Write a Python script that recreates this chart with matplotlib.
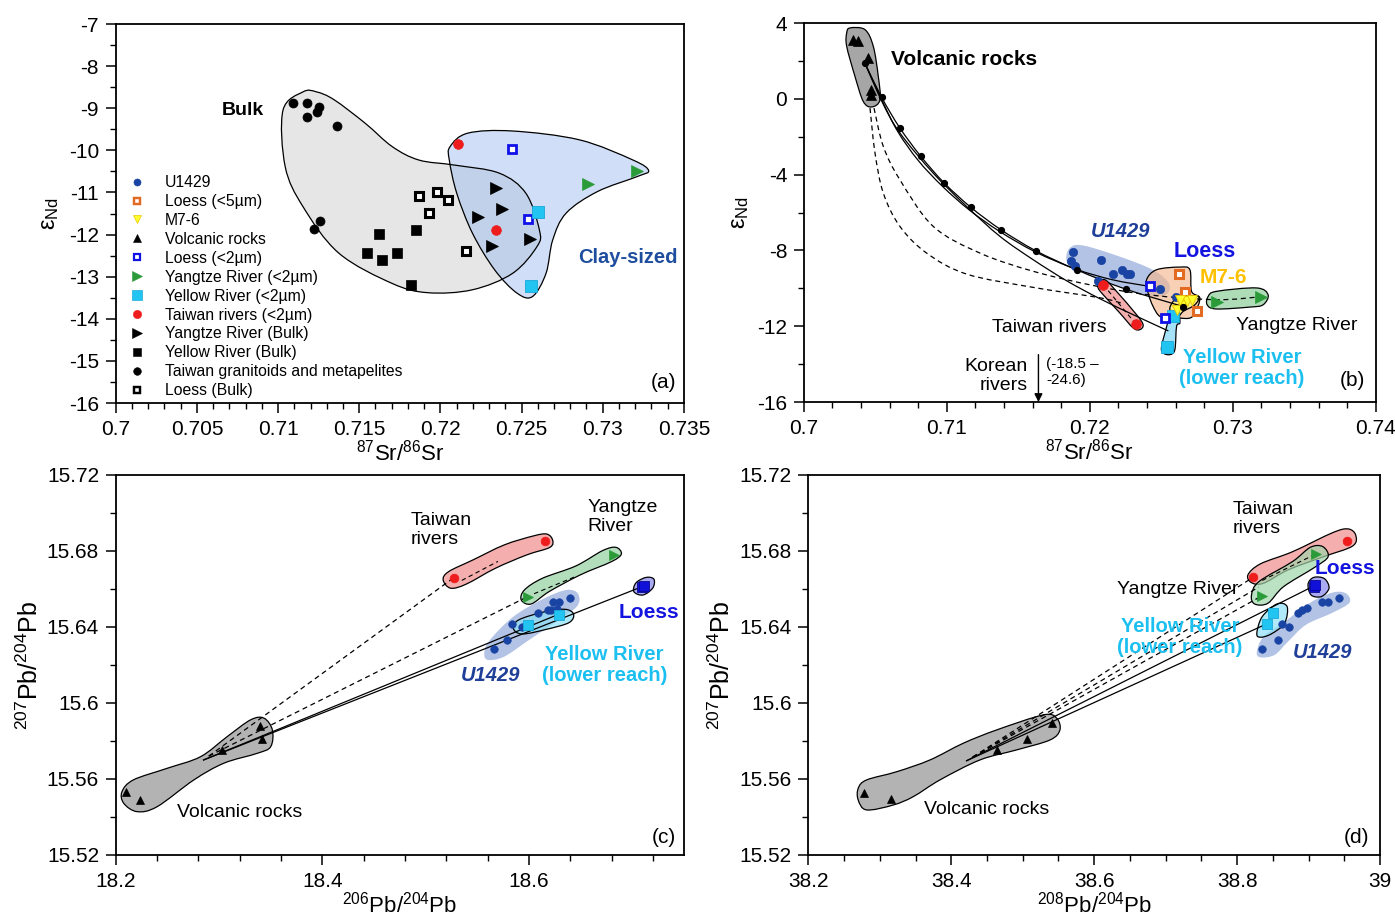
import numpy as np
import matplotlib
matplotlib.use("Agg")
import matplotlib.pyplot as plt
from matplotlib.path import Path
from matplotlib.patches import PathPatch
from matplotlib.lines import Line2D
from matplotlib.colors import to_rgba
from matplotlib.ticker import MultipleLocator, FuncFormatter

plt.rcParams["font.family"] = ["Liberation Sans", "DejaVu Sans"]
plt.rcParams["mathtext.fontset"] = "custom"
plt.rcParams["mathtext.rm"] = "Liberation Sans"
plt.rcParams["mathtext.it"] = "Liberation Sans:italic"
plt.rcParams["axes.unicode_minus"] = False

# ---------------- panel (a): eNd vs 87Sr/86Sr, bulk vs clay ----------------
A_GRANITOID_X = [0.7109, 0.7118, 0.7125, 0.7124, 0.7118, 0.7136, 0.7126, 0.7122]
A_GRANITOID_Y = [-8.87, -8.87, -8.98, -9.08, -9.2, -9.41, -11.67, -11.86]
A_LOESS_BULK_X = [0.7187, 0.7198, 0.7205, 0.7193, 0.7216]
A_LOESS_BULK_Y = [-11.08, -11.0, -11.19, -11.49, -12.4]
A_YELLOW_BULK_X = [0.7162, 0.7185, 0.7155, 0.7164, 0.7173, 0.7182]
A_YELLOW_BULK_Y = [-11.99, -11.89, -12.43, -12.6, -12.44, -13.19]
A_YANGTZE_BULK_X = [0.7234, 0.7238, 0.7223, 0.7232, 0.7255]
A_YANGTZE_BULK_Y = [-10.9, -11.4, -11.59, -12.28, -12.1]
A_TAIWAN_X = [0.7211, 0.7234]
A_TAIWAN_Y = [-9.85, -11.89]
A_LOESS2_X = [0.7244, 0.7254]
A_LOESS2_Y = [-9.97, -11.62]
A_YELLOW_X = [0.7260, 0.7256]
A_YELLOW_Y = [-11.47, -13.22]
A_YANGTZE_X = [0.7291, 0.7321]
A_YANGTZE_Y = [-10.79, -10.49]

A_BULK_ENV_X = [0.71154, 0.7103, 0.71044, 0.71154, 0.71374, 0.71703, 0.71923, 0.72198, 0.72445,
                0.72596, 0.7261, 0.72527, 0.72362, 0.72088, 0.71868, 0.71703, 0.71538, 0.71346, 0.71236]
A_BULK_ENV_Y = [-8.61, -9.05, -10.39, -11.34, -12.44, -13.16, -13.38, -13.31, -12.92,
                -12.28, -11.89, -11.02, -10.54, -10.35, -10.23, -9.91, -9.36, -8.8, -8.61]
A_CLAY_ENV_X = [0.7206, 0.7217, 0.72445, 0.72857, 0.73187, 0.73283, 0.73214, 0.72967, 0.72775,
                0.72692, 0.72651, 0.72568, 0.72472, 0.72335, 0.72198, 0.72101, 0.72055]
A_CLAY_ENV_Y = [-9.91, -9.59, -9.54, -9.75, -10.23, -10.48, -10.62, -10.98, -11.49,
                -12.13, -12.92, -13.47, -13.39, -12.84, -11.97, -11.02, -10.23]

LEGEND_LABELS = ["U1429", "Loess (<5µm)", "M7-6", "Volcanic rocks", "Loess (<2µm)",
                 "Yangtze River (<2µm)", "Yellow River (<2µm)", "Taiwan rivers (<2µm)",
                 "Yangtze River (Bulk)", "Yellow River (Bulk)",
                 "Taiwan granitoids and metapelites", "Loess (Bulk)"]

# ---------------- panel (b): mixing curves ----------------
B_VOLC_X = [0.70346, 0.70381, 0.70451, 0.7047, 0.7047]
B_VOLC_Y = [3.08, 3.03, 2.15, 0.48, 0.22]
B_U1429_X = [0.71880, 0.71866, 0.71896, 0.72076, 0.72164, 0.72223, 0.72257, 0.72281, 0.72059, 0.72602, 0.7249]
B_U1429_Y = [-8.10, -8.58, -8.84, -8.53, -9.25, -9.02, -9.23, -9.23, -9.64, -10.46, -10.04]
B_LOESS2_X = [0.7242, 0.72525]
B_LOESS2_Y = [-9.90, -11.57]
B_LOESS5_X = [0.72623, 0.72665, 0.72747]
B_LOESS5_Y = [-9.25, -10.22, -11.22]
B_M76_X = [0.72607, 0.72642, 0.72677, 0.72712, 0.7263]
B_M76_Y = [-11.13, -10.87, -10.69, -10.61, -10.61]
B_YELLOW_X = [0.72583, 0.72541]
B_YELLOW_Y = [-11.48, -13.1]
B_TAIWAN_X = [0.72094, 0.72322]
B_TAIWAN_Y = [-9.81, -11.88]
B_YANGTZE_X = [0.7289, 0.7320]
B_YANGTZE_Y = [-10.7, -10.45]

B_CURVE_A_X = [0.70427, 0.70545, 0.70672, 0.70819, 0.70982, 0.71169, 0.71379, 0.71623, 0.71908, 0.7225, 0.72653]
B_CURVE_A_Y = [1.89, 0.07, -1.54, -3.04, -4.44, -5.73, -6.91, -8.02, -9.02, -10.04, -10.96]
B_CURVE_B_X = [0.70427, 0.70545, 0.70655, 0.708, 0.7097, 0.7116, 0.7137, 0.7162, 0.7190, 0.7216, 0.7242]
B_CURVE_B_Y = [1.89, -0.05, -1.7, -3.25, -4.62, -5.88, -7.0, -8.08, -8.98, -9.55, -9.9]
B_CURVE_C_X = [0.70427, 0.7055, 0.70672, 0.70905, 0.71139, 0.71372, 0.71604, 0.71838, 0.72071, 0.7232, 0.7255]
B_CURVE_C_Y = [1.89, -0.2, -1.80, -3.92, -5.68, -7.26, -8.49, -9.6, -10.55, -11.45, -12.25]
B_DASH_1_X = [0.70491, 0.70556, 0.70672, 0.70905, 0.71232, 0.71604, 0.72024, 0.7242, 0.72886, 0.7319]
B_DASH_1_Y = [-0.49, -2.51, -4.27, -6.73, -8.14, -9.1, -9.85, -10.35, -10.6, -10.45]
B_DASH_2_X = [0.70463, 0.70498, 0.70556, 0.70672, 0.70859, 0.71139, 0.71604, 0.72071, 0.72234]
B_DASH_2_Y = [-0.49, -2.86, -4.97, -6.73, -8.14, -9.25, -9.95, -10.5, -10.81]
B_KOREA_X = 0.71641
B_KOREA_Y = [-13.5, -16.0]

B_VOLC_ENV_X = [0.70323, 0.70428, 0.70486, 0.70521, 0.70533, 0.70475, 0.70416, 0.70358, 0.70300, 0.70300]
B_VOLC_ENV_Y = [3.74, 3.65, 2.77, 1.18, -0.05, -0.43, -0.14, 1.18, 2.77, 3.47]
B_U1429_ENV_X = [0.71860, 0.71984, 0.72389, 0.72545, 0.72545, 0.72451, 0.72264, 0.71953, 0.71843]
B_U1429_ENV_Y = [-7.87, -7.79, -8.84, -9.64, -10.25, -10.43, -10.07, -9.19, -8.66]
B_LOESS_ENV_X = [0.72397, 0.72467, 0.72630, 0.72700, 0.72712, 0.72770, 0.72735, 0.72700, 0.72630,
                 0.72560, 0.72490, 0.72443, 0.72408]
B_LOESS_ENV_Y = [-9.55, -9.02, -8.88, -9.02, -10.16, -10.51, -11.30, -11.57, -11.57,
                 -11.48, -11.48, -10.96, -10.25]
B_M76_ENV_X = [0.7256, 0.72583, 0.7263, 0.72758, 0.72735, 0.72653, 0.72607]
B_M76_ENV_Y = [-11.13, -10.69, -10.43, -10.43, -10.87, -11.22, -11.57]
B_YELLOW_ENV_X = [0.7256, 0.72618, 0.7263, 0.72607, 0.72595, 0.7256, 0.72513, 0.72502, 0.72541]
B_YELLOW_ENV_Y = [-11.30, -11.30, -11.83, -12.01, -13.24, -13.5, -13.41, -13.07, -11.92]
B_TAIWAN_ENV_X = [0.72059, 0.72106, 0.72187, 0.72327, 0.72373, 0.7235, 0.72303, 0.7221, 0.72094, 0.72059]
B_TAIWAN_ENV_Y = [-9.72, -9.55, -10.16, -11.39, -11.92, -12.18, -12.09, -11.30, -10.34, -9.99]
B_YANGTZE_ENV_X = [0.72828, 0.72886, 0.73166, 0.73247, 0.73212, 0.73119, 0.72886, 0.72821]
B_YANGTZE_ENV_Y = [-10.43, -10.16, -9.98, -10.34, -10.87, -10.99, -11.09, -10.87]

# ---------------- panel (c): 207Pb/204Pb vs 206Pb/204Pb ----------------
C_VOLC_X = [18.2095, 18.2234, 18.3025, 18.3397, 18.3414]
C_VOLC_Y = [15.553, 15.549, 15.575, 15.588, 15.581]
C_TAIWAN_X = [18.5274, 18.6151]
C_TAIWAN_Y = [15.666, 15.685]
C_YANGTZE_X = [18.5988, 18.6822]
C_YANGTZE_Y = [15.656, 15.678]
C_LOESS_X = [18.7095, 18.7114]
C_LOESS_Y = [15.6608, 15.6618]
C_YELLOW_X = [18.5988, 18.6295]
C_YELLOW_Y = [15.641, 15.6463]
C_U1429_X = [18.5664, 18.5787, 18.5836, 18.593, 18.6085, 18.6182, 18.6231, 18.6295, 18.6273, 18.6214, 18.6402]
C_U1429_Y = [15.6283, 15.6332, 15.6414, 15.6402, 15.6475, 15.6489, 15.6533, 15.6533, 15.6493, 15.6489, 15.6554]

C_SOLID_START = (18.285, 15.570)
C_SOLID_END_X = [18.7114, 18.628]
C_SOLID_END_Y = [15.6616, 15.6465]
C_DASH_START = (18.29, 15.572)
C_DASH_END_X = [18.5274, 18.5988]
C_DASH_END_Y = [15.666, 15.656]
C_INNER_DASH_X = [[18.535, 18.57], [18.605, 18.645]]
C_INNER_DASH_Y = [[15.6645, 15.6745], [15.6575, 15.6665]]

C_VOLC_ENV_X = [18.206, 18.217, 18.2497, 18.282, 18.3079, 18.3305, 18.3435, 18.3516, 18.35,
                18.337, 18.3047, 18.2756, 18.24, 18.2206, 18.2077]
C_VOLC_ENV_Y = [15.5533, 15.5595, 15.5656, 15.5717, 15.5823, 15.5911, 15.592, 15.5858, 15.577,
                15.5735, 15.5683, 15.5595, 15.5454, 15.5428, 15.5472]
C_TAIWAN_ENV_X = [18.517, 18.5222, 18.5459, 18.5762, 18.6043, 18.6173, 18.6229, 18.6203, 18.5978,
                  18.5676, 18.5395, 18.5243]
C_TAIWAN_ENV_Y = [15.6647, 15.6691, 15.6753, 15.6832, 15.6879, 15.6889, 15.6858, 15.6819, 15.6779,
                  15.6709, 15.6626, 15.6604]
C_YANGTZE_ENV_X = [18.5926, 18.5957, 18.6130, 18.6454, 18.6714, 18.6843, 18.6895, 18.68, 18.6497,
                   18.6195, 18.6022]
C_YANGTZE_ENV_Y = [15.6542, 15.6595, 15.6656, 15.6721, 15.6802, 15.6819, 15.6784, 15.6744, 15.6674,
                   15.6586, 15.6521]
C_LOESS_ENV_X = [18.7016, 18.7038, 18.7137, 18.7211, 18.7198, 18.7103]
C_LOESS_ENV_Y = [15.6586, 15.6633, 15.6661, 15.6651, 15.6604, 15.6568]
C_YELLOW_ENV_X = [18.5849, 18.5901, 18.613, 18.6346, 18.6432, 18.6389, 18.6173, 18.5935]
C_YELLOW_ENV_Y = [15.6393, 15.6437, 15.6477, 15.6493, 15.6468, 15.6423, 15.6388, 15.6363]
C_U1429_ENV_X = [18.5568, 18.5611, 18.5849, 18.6151, 18.6368, 18.6476, 18.6463, 18.6238, 18.5978,
                 18.5762, 18.5611]
C_U1429_ENV_Y = [15.6253, 15.6323, 15.6454, 15.6551, 15.6595, 15.6574, 15.6507, 15.6419, 15.6323,
                 15.6244, 15.6226]

# ---------------- panel (d): 207Pb/204Pb vs 208Pb/204Pb ----------------
D_VOLC_X = [38.2773, 38.3157, 38.4635, 38.5064, 38.5405]
D_VOLC_Y = [15.5528, 15.5493, 15.5753, 15.5809, 15.5893]
D_TAIWAN_X = [38.8224, 38.9539]
D_TAIWAN_Y = [15.6662, 15.6853]
D_YANGTZE_X = [38.8341, 38.9097]
D_YANGTZE_Y = [15.6563, 15.6782]
D_LOESS_X = [38.9073, 38.9085]
D_LOESS_Y = [15.6612, 15.6620]
D_YELLOW_X = [38.8503, 38.8411]
D_YELLOW_Y = [15.6472, 15.6416]
D_U1429_X = [38.8341, 38.8573, 38.8621, 38.8727, 38.8853, 38.8901, 38.8971, 38.9181, 38.9273, 38.9427]
D_U1429_Y = [15.6283, 15.6332, 15.6414, 15.6402, 15.6472, 15.6489, 15.6502, 15.6533, 15.6533, 15.6554]

D_SOLID_START = (38.4215, 15.5696)
D_SOLID_END_X = [38.9073, 38.8411]
D_SOLID_END_Y = [15.6616, 15.6416]
D_DASH_START = (38.43, 15.5715)
D_DASH_END_X = [38.8224, 38.8341, 38.8300]
D_DASH_END_Y = [15.6662, 15.6563, 15.6610]
D_INNER_DASH_X = [[38.835, 38.905]]
D_INNER_DASH_Y = [[15.6645, 15.6775]]

D_VOLC_ENV_X = [38.2699, 38.2817, 38.3236, 38.3702, 38.4168, 38.4635, 38.5287, 38.5474, 38.552,
                38.538, 38.4915, 38.4401, 38.3842, 38.3469, 38.3189, 38.2817, 38.2699]
D_VOLC_ENV_Y = [15.5551, 15.5595, 15.5638, 15.57, 15.5788, 15.5858, 15.5937, 15.592, 15.5858,
                15.5805, 15.5753, 15.57, 15.5595, 15.5507, 15.5463, 15.5437, 15.5489]
D_TAIWAN_ENV_X = [38.815, 38.8324, 38.8773, 38.9333, 38.9551, 38.9657, 38.9614, 38.9209, 38.871,
                  38.8368, 38.82]
D_TAIWAN_ENV_Y = [15.6674, 15.6732, 15.6796, 15.6896, 15.6916, 15.6884, 15.6826, 15.677, 15.67,
                  15.663, 15.6633]
D_YANGTZE_ENV_X = [38.82, 38.8305, 38.8773, 38.9022, 38.9196, 38.9271, 38.9084, 38.8648, 38.843, 38.8243]
D_YANGTZE_ENV_Y = [15.6568, 15.6639, 15.6744, 15.6819, 15.6823, 15.677, 15.6714, 15.6612, 15.6525, 15.6521]
D_LOESS_ENV_X = [38.8991, 38.9072, 38.9221, 38.9284, 38.9178, 38.9034]
D_LOESS_ENV_Y = [15.6626, 15.6661, 15.6654, 15.6604, 15.656, 15.6568]
D_YELLOW_ENV_X = [38.8274, 38.8349, 38.8555, 38.8698, 38.8661, 38.8474, 38.8324]
D_YELLOW_ENV_Y = [15.6367, 15.6454, 15.6521, 15.6507, 15.6419, 15.6363, 15.6346]
D_U1429_ENV_X = [38.8274, 38.8368, 38.8648, 38.9022, 38.9333, 38.952, 38.957, 38.9333, 38.896,
                 38.8711, 38.8523, 38.8324]
D_U1429_ENV_Y = [15.627, 15.6349, 15.6423, 15.6528, 15.6581, 15.6577, 15.6528, 15.6475, 15.6411,
                 15.6323, 15.6253, 15.624]

# ---------------- styles ----------------
U_BLUE = "#1a44a3"
NAVY_TXT = "#1f3f99"
LOESS_TXT = "#1414e0"
CYAN_TXT = "#1cc0f0"

STYLES = {
    "U1429": dict(m="o", ms=6.0, fc=U_BLUE, ec=U_BLUE, mew=0.5),
    "Loess (<5µm)": dict(m="s", ms=5.8, fc="white", ec="#e26a22", mew=2.2),
    "M7-6": dict(m="v", ms=7.5, fc="#ffff2e", ec="#e8c400", mew=0.6),
    "Volcanic rocks": dict(m="^", ms=7.0, fc="black", ec="black", mew=0.5),
    "Loess (<2µm)": dict(m="s", ms=5.8, fc="white", ec="#1010e8", mew=2.0),
    "Yangtze River (<2µm)": dict(m=">", ms=8.0, fc="#2b9b3a", ec="#2b9b3a", mew=0.5),
    "Yellow River (<2µm)": dict(m="s", ms=8.0, fc="#22c4f2", ec="#1aa8d8", mew=0.6),
    "Taiwan rivers (<2µm)": dict(m="o", ms=7.0, fc="#ee1c1c", ec="#ee1c1c", mew=0.5),
    "Yangtze River (Bulk)": dict(m=">", ms=8.0, fc="black", ec="black", mew=0.5),
    "Yellow River (Bulk)": dict(m="s", ms=7.0, fc="black", ec="black", mew=0.5),
    "Taiwan granitoids and metapelites": dict(m="o", ms=6.5, fc="black", ec="black", mew=0.5),
    "Loess (Bulk)": dict(m="s", ms=5.8, fc="white", ec="black", mew=2.2),
}


def smooth_path(xs, ys, closed=True):
    pts = np.column_stack([xs, ys]).astype(float)
    n = len(pts)
    verts = [pts[0]]
    codes = [Path.MOVETO]
    segs = range(n) if closed else range(n - 1)
    for i in segs:
        p0 = pts[(i - 1) % n] if (closed or i > 0) else pts[i]
        p1 = pts[i]
        p2 = pts[(i + 1) % n]
        p3 = pts[(i + 2) % n] if (closed or i + 2 < n) else pts[i + 1]
        verts += [p1 + (p2 - p0) / 6.0, p2 - (p3 - p1) / 6.0, p2]
        codes += [Path.CURVE4] * 3
    if closed:
        verts.append(pts[0])
        codes.append(Path.CLOSEPOLY)
    return Path(verts, codes)


def envelope(ax, xs, ys, fc, alpha=1.0, ec="black", lw=0.9, z=1):
    ax.add_patch(PathPatch(smooth_path(xs, ys), facecolor=to_rgba(fc, alpha),
                           edgecolor=ec, lw=lw, zorder=z))


def curve(ax, xs, ys, ls="-", lw=0.9, z=3):
    ax.add_patch(PathPatch(smooth_path(xs, ys, closed=False), fill=False,
                           edgecolor="black", lw=lw, ls=ls, zorder=z))


def pts(ax, xs, ys, key, z=6, scale=1.0):
    st = STYLES[key]
    ax.plot(xs, ys, ls="none", marker=st["m"], ms=st["ms"] * scale, mfc=st["fc"],
            mec=st["ec"], mew=st["mew"], zorder=z)


def style_axis(ax, xlim, ylim, xmaj, xmin, ymaj, ymin):
    ax.set_xlim(*xlim)
    ax.set_ylim(*ylim)
    ax.xaxis.set_major_locator(MultipleLocator(xmaj))
    ax.xaxis.set_minor_locator(MultipleLocator(xmin))
    ax.yaxis.set_major_locator(MultipleLocator(ymaj))
    ax.yaxis.set_minor_locator(MultipleLocator(ymin))
    fmt = FuncFormatter(lambda v, p: f"{round(v, 6):g}")
    ax.xaxis.set_major_formatter(fmt)
    ax.yaxis.set_major_formatter(fmt)
    ax.tick_params(which="major", direction="out", length=7, width=1.1, labelsize=15,
                   top=False, right=False, pad=5)
    ax.tick_params(which="minor", direction="out", length=4, width=1.0, top=False, right=False)
    for s in ax.spines.values():
        s.set_linewidth(1.3)


fig = plt.figure(figsize=(13.95, 9.21), dpi=100)
ax_a = fig.add_axes([0.0830, 0.5624, 0.4072, 0.4115])
ax_b = fig.add_axes([0.5762, 0.5635, 0.4100, 0.4115])
ax_c = fig.add_axes([0.0830, 0.0717, 0.4072, 0.4126])
ax_d = fig.add_axes([0.5794, 0.0717, 0.4100, 0.4126])

SR_LABEL = r"$^{87}$Sr/$^{86}$Sr"
ND_LABEL = "ε$_{\\mathrm{Nd}}$"

# ---------------- (a) ----------------
ax = ax_a
style_axis(ax, (0.7, 0.735), (-16, -7), 0.005, 0.001, 1, 0.5)
envelope(ax, A_BULK_ENV_X, A_BULK_ENV_Y, "#e6e6e6", ec="none", z=1)
envelope(ax, A_CLAY_ENV_X, A_CLAY_ENV_Y, "#8fb4ee", alpha=0.42, ec="none", z=2)
envelope(ax, A_BULK_ENV_X, A_BULK_ENV_Y, "none", z=3)
envelope(ax, A_CLAY_ENV_X, A_CLAY_ENV_Y, "none", z=3)
pts(ax, A_GRANITOID_X, A_GRANITOID_Y, "Taiwan granitoids and metapelites")
pts(ax, A_LOESS_BULK_X, A_LOESS_BULK_Y, "Loess (Bulk)")
pts(ax, A_YELLOW_BULK_X, A_YELLOW_BULK_Y, "Yellow River (Bulk)")
pts(ax, A_YANGTZE_BULK_X, A_YANGTZE_BULK_Y, "Yangtze River (Bulk)")
pts(ax, A_TAIWAN_X, A_TAIWAN_Y, "Taiwan rivers (<2µm)")
pts(ax, A_LOESS2_X, A_LOESS2_Y, "Loess (<2µm)")
pts(ax, A_YELLOW_X, A_YELLOW_Y, "Yellow River (<2µm)")
pts(ax, A_YANGTZE_X, A_YANGTZE_Y, "Yangtze River (<2µm)")
handles = []
for lab in LEGEND_LABELS:
    st = STYLES[lab]
    handles.append(Line2D([], [], ls="none", marker=st["m"], ms=st["ms"] * 0.85, mfc=st["fc"],
                          mec=st["ec"], mew=st["mew"] * 0.8, label=lab))
ax.legend(handles=handles, loc="upper left", bbox_to_anchor=(0.012, 0.618), frameon=False,
          fontsize=11.3, handlelength=1.0, handletextpad=1.3, labelspacing=0.25,
          borderaxespad=0, borderpad=0.4)
ax.text(0.70784, -9.06, "Bulk", fontsize=14, fontweight="bold", ha="center", va="center")
ax.text(0.73156, -12.55, "Clay-sized", fontsize=14.5, fontweight="bold", color="#1f4e9e",
        ha="center", va="center")
ax.text(0.73376, -15.52, "(a)", fontsize=15, ha="center", va="center")
ax.set_xlabel(SR_LABEL, fontsize=16, labelpad=1)
ax.set_ylabel(ND_LABEL, fontsize=17, labelpad=6)

# ---------------- (b) ----------------
ax = ax_b
style_axis(ax, (0.7, 0.74), (-16, 4), 0.01, 0.002, 4, 2)
envelope(ax, B_VOLC_ENV_X, B_VOLC_ENV_Y, "#a6a6a6", z=1)
envelope(ax, B_U1429_ENV_X, B_U1429_ENV_Y, "#7f9bd4", alpha=0.6, ec="none", z=1)
envelope(ax, B_TAIWAN_ENV_X, B_TAIWAN_ENV_Y, "#f08c8c", alpha=0.7, z=1)
envelope(ax, B_YANGTZE_ENV_X, B_YANGTZE_ENV_Y, "#9fd6aa", alpha=0.85, z=1)
envelope(ax, B_LOESS_ENV_X, B_LOESS_ENV_Y, "#f4b88e", alpha=0.65, z=2)
envelope(ax, B_YELLOW_ENV_X, B_YELLOW_ENV_Y, "#a6e2f7", z=2)
envelope(ax, B_M76_ENV_X, B_M76_ENV_Y, "#fff27a", alpha=0.85, z=2)
curve(ax, B_CURVE_A_X, B_CURVE_A_Y)
curve(ax, B_CURVE_B_X, B_CURVE_B_Y)
curve(ax, B_CURVE_C_X, B_CURVE_C_Y)
curve(ax, B_DASH_1_X, B_DASH_1_Y, ls=(0, (4, 3)))
curve(ax, B_DASH_2_X, B_DASH_2_Y, ls=(0, (4, 3)))
ax.plot(B_CURVE_A_X, B_CURVE_A_Y, ls="none", marker="o", ms=4.2, color="black", zorder=7)
ax.plot(B_TAIWAN_X, B_TAIWAN_Y, ls=(0, (4, 3)), lw=0.8, color="black", zorder=3)
pts(ax, B_VOLC_X, B_VOLC_Y, "Volcanic rocks")
pts(ax, B_U1429_X, B_U1429_Y, "U1429")
pts(ax, B_TAIWAN_X, B_TAIWAN_Y, "Taiwan rivers (<2µm)")
pts(ax, B_YANGTZE_X, B_YANGTZE_Y, "Yangtze River (<2µm)")
pts(ax, B_YELLOW_X, B_YELLOW_Y, "Yellow River (<2µm)")
pts(ax, B_LOESS2_X, B_LOESS2_Y, "Loess (<2µm)")
pts(ax, B_LOESS5_X, B_LOESS5_Y, "Loess (<5µm)")
pts(ax, B_M76_X, B_M76_Y, "M7-6", z=6)
ax.annotate("", xy=(B_KOREA_X, B_KOREA_Y[1]), xytext=(B_KOREA_X, B_KOREA_Y[0]),
            arrowprops=dict(arrowstyle="-|>", color="black", lw=1.0, mutation_scale=12,
                            shrinkA=0, shrinkB=0))
ax.text(0.71567, -14.61, "Korean\nrivers", fontsize=14, ha="right", va="center", linespacing=1.15)
ax.text(0.71693, -14.4, "(-18.5 –\n-24.6)", fontsize=11, ha="left", va="center", linespacing=1.2)
ax.text(0.70608, 2.06, "Volcanic rocks", fontsize=15, fontweight="bold", ha="left", va="center")
ax.text(0.72218, -7.01, "U1429", fontsize=14.5, fontweight="bold", fontstyle="italic",
        color=NAVY_TXT, ha="center", va="center")
ax.text(0.72803, -8.05, "Loess", fontsize=15.5, fontweight="bold", color=LOESS_TXT,
        ha="center", va="center")
ax.text(0.72934, -9.44, "M7-6", fontsize=15, fontweight="bold", color="#ffc000",
        ha="center", va="center")
ax.text(0.71719, -12.09, "Taiwan rivers", fontsize=14, ha="center", va="center")
ax.text(0.73448, -11.97, "Yangtze River", fontsize=14, ha="center", va="center")
ax.text(0.73063, -14.19, "Yellow River\n(lower reach)", fontsize=14.5, fontweight="bold",
        color=CYAN_TXT, ha="center", va="center", linespacing=1.15)
ax.text(0.73839, -14.88, "(b)", fontsize=15, ha="center", va="center")
ax.set_xlabel(SR_LABEL, fontsize=16, labelpad=1)
ax.set_ylabel(ND_LABEL, fontsize=17, labelpad=4)


def pb_panel(ax, env, lines, groups):
    for xs, ys, fc, alpha, ec in env:
        envelope(ax, xs, ys, fc, alpha=alpha, ec=ec, z=1)
    for start, ex, ey, ls in lines:
        for x1, y1 in zip(ex, ey):
            ax.plot([start[0], x1], [start[1], y1], color="black", lw=0.9, ls=ls, zorder=3)
    for xs, ys, key in groups:
        pts(ax, xs, ys, key, scale=0.9)


PB_LABEL_Y = r"$^{207}$Pb/$^{204}$Pb"
DASH = (0, (4, 3))

# ---------------- (c) ----------------
ax = ax_c
style_axis(ax, (18.2, 18.75), (15.52, 15.72), 0.2, 0.04, 0.04, 0.02)
pb_panel(ax,
         [(C_VOLC_ENV_X, C_VOLC_ENV_Y, "#b3b3b3", 1.0, "black"),
          (C_U1429_ENV_X, C_U1429_ENV_Y, "#7f9bd4", 0.6, "none"),
          (C_TAIWAN_ENV_X, C_TAIWAN_ENV_Y, "#f08c8c", 0.7, "black"),
          (C_YANGTZE_ENV_X, C_YANGTZE_ENV_Y, "#9fd6aa", 0.8, "black"),
          (C_YELLOW_ENV_X, C_YELLOW_ENV_Y, "#8fe0f7", 0.7, "black"),
          (C_LOESS_ENV_X, C_LOESS_ENV_Y, "#8e8ef0", 0.75, "black")],
         [(C_SOLID_START, C_SOLID_END_X, C_SOLID_END_Y, "-"),
          (C_DASH_START, C_DASH_END_X, C_DASH_END_Y, DASH)],
         [(C_VOLC_X, C_VOLC_Y, "Volcanic rocks"),
          (C_U1429_X, C_U1429_Y, "U1429"),
          (C_TAIWAN_X, C_TAIWAN_Y, "Taiwan rivers (<2µm)"),
          (C_YANGTZE_X, C_YANGTZE_Y, "Yangtze River (<2µm)"),
          (C_YELLOW_X, C_YELLOW_Y, "Yellow River (<2µm)")])
for xs, ys in zip(C_INNER_DASH_X, C_INNER_DASH_Y):
    ax.plot(xs, ys, color="black", lw=0.8, ls=DASH, zorder=3)
ax.plot(C_LOESS_X, C_LOESS_Y, ls="none", marker="s", ms=6.5, mfc="#1010d8", mec="#0a0a90",
        mew=0.6, zorder=6)
ax.text(18.4856, 15.691, "Taiwan\nrivers", fontsize=14, ha="left", va="center", linespacing=1.15)
ax.text(18.6564, 15.6979, "Yangtze\nRiver", fontsize=14, ha="left", va="center", linespacing=1.15)
ax.text(18.7165, 15.6474, "Loess", fontsize=15, fontweight="bold", color=LOESS_TXT,
        ha="center", va="center")
ax.text(18.6729, 15.62, "Yellow River\n(lower reach)", fontsize=14.5, fontweight="bold",
        color=CYAN_TXT, ha="center", va="center", linespacing=1.15)
ax.text(18.5632, 15.6147, "U1429", fontsize=14.5, fontweight="bold", fontstyle="italic",
        color=NAVY_TXT, ha="center", va="center")
ax.text(18.3195, 15.5421, "Volcanic rocks", fontsize=14, ha="center", va="center")
ax.text(18.7311, 15.529, "(c)", fontsize=15, ha="center", va="center")
ax.set_xlabel(r"$^{206}$Pb/$^{204}$Pb", fontsize=16, labelpad=1)
ax.set_ylabel(PB_LABEL_Y, fontsize=18, labelpad=3)

# ---------------- (d) ----------------
ax = ax_d
style_axis(ax, (38.2, 39.0), (15.52, 15.72), 0.2, 0.05, 0.04, 0.02)
pb_panel(ax,
         [(D_VOLC_ENV_X, D_VOLC_ENV_Y, "#b3b3b3", 1.0, "black"),
          (D_U1429_ENV_X, D_U1429_ENV_Y, "#7f9bd4", 0.6, "none"),
          (D_TAIWAN_ENV_X, D_TAIWAN_ENV_Y, "#f08c8c", 0.7, "black"),
          (D_YANGTZE_ENV_X, D_YANGTZE_ENV_Y, "#9fd6aa", 0.7, "black"),
          (D_YELLOW_ENV_X, D_YELLOW_ENV_Y, "#8fe0f7", 0.7, "black"),
          (D_LOESS_ENV_X, D_LOESS_ENV_Y, "#8e8ef0", 0.75, "black")],
         [(D_SOLID_START, D_SOLID_END_X, D_SOLID_END_Y, "-"),
          (D_DASH_START, D_DASH_END_X, D_DASH_END_Y, DASH)],
         [(D_VOLC_X, D_VOLC_Y, "Volcanic rocks"),
          (D_U1429_X, D_U1429_Y, "U1429"),
          (D_TAIWAN_X, D_TAIWAN_Y, "Taiwan rivers (<2µm)"),
          (D_YANGTZE_X, D_YANGTZE_Y, "Yangtze River (<2µm)"),
          (D_YELLOW_X, D_YELLOW_Y, "Yellow River (<2µm)")])
for xs, ys in zip(D_INNER_DASH_X, D_INNER_DASH_Y):
    ax.plot(xs, ys, color="black", lw=0.8, ls=DASH, zorder=3)
ax.plot(D_LOESS_X, D_LOESS_Y, ls="none", marker="s", ms=6.5, mfc="#1010d8", mec="#0a0a90",
        mew=0.6, zorder=6)
ax.text(38.794, 15.6968, "Taiwan\nrivers", fontsize=14, ha="left", va="center", linespacing=1.15)
ax.text(38.7171, 15.6595, "Yangtze River", fontsize=14, ha="center", va="center")
ax.text(38.9507, 15.671, "Loess", fontsize=15, fontweight="bold", color=LOESS_TXT,
        ha="center", va="center")
ax.text(38.7199, 15.6347, "Yellow River\n(lower reach)", fontsize=14.5, fontweight="bold",
        color=CYAN_TXT, ha="center", va="center", linespacing=1.15)
ax.text(38.9199, 15.6268, "U1429", fontsize=14.5, fontweight="bold", fontstyle="italic",
        color=NAVY_TXT, ha="center", va="center")
ax.text(38.4499, 15.5437, "Volcanic rocks", fontsize=14, ha="center", va="center")
ax.text(38.9674, 15.529, "(d)", fontsize=15, ha="center", va="center")
ax.set_xlabel(r"$^{208}$Pb/$^{204}$Pb", fontsize=16, labelpad=1)
ax.set_ylabel(PB_LABEL_Y, fontsize=18, labelpad=3)

fig.savefig("out.png", dpi=100)
